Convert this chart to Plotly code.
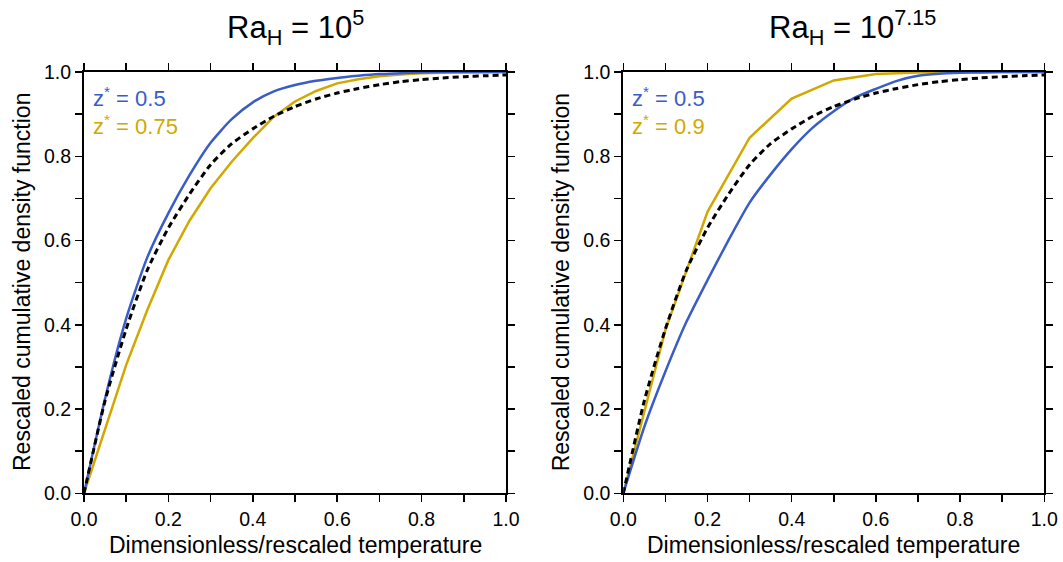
import plotly.graph_objects as go

# ---------------- data ----------------
x_fine = [0.0, 0.05, 0.1, 0.15, 0.2, 0.25, 0.3, 0.35, 0.4, 0.45, 0.5,
          0.55, 0.6, 0.65, 0.7, 0.75, 0.8, 0.85, 0.9, 0.95, 1.0]
x_coarse = [0.0, 0.1, 0.2, 0.3, 0.4, 0.5, 0.6, 0.7, 0.8, 0.9, 1.0]

ref_cdf = [0.0, 0.22, 0.39, 0.53, 0.63, 0.71, 0.78, 0.83, 0.865, 0.895, 0.918,
           0.936, 0.95, 0.961, 0.97, 0.977, 0.982, 0.986, 0.989, 0.991, 0.993]

left_z05 = [0.0, 0.225, 0.415, 0.56, 0.665, 0.755, 0.832, 0.888, 0.928, 0.954, 0.969,
            0.979, 0.986, 0.991, 0.995, 0.997, 0.999, 1.0, 1.0, 1.0, 1.0]
left_z075 = [0.0, 0.155, 0.305, 0.435, 0.554, 0.647, 0.724, 0.787, 0.843, 0.894, 0.93,
             0.955, 0.973, 0.983, 0.99, 0.994, 0.997, 0.998, 0.999, 1.0, 1.0]

right_z05 = [0.0, 0.158, 0.289, 0.407, 0.506, 0.601, 0.69, 0.757, 0.817, 0.868, 0.907,
             0.939, 0.96, 0.979, 0.991, 0.996, 0.998, 0.999, 1.0, 1.0, 1.0]
right_z09 = [0.0, 0.388, 0.668, 0.844, 0.937, 0.98, 0.995, 0.999, 1.0, 1.0, 1.0]

panel_titles = ["Ra<sub>H</sub> = 10<sup>5</sup>", "Ra<sub>H</sub> = 10<sup>7.15</sup>"]
left_labels = ["z<sup>*</sup> = 0.5", "z<sup>*</sup> = 0.75"]
right_labels = ["z<sup>*</sup> = 0.5", "z<sup>*</sup> = 0.9"]
x_title = "Dimensionless/rescaled temperature"
y_title = "Rescaled cumulative density function"

BLUE = "#3A5CC6"
GOLD = "#D2A800"
FONT = "Liberation Sans, Arial, Helvetica, sans-serif"

W, H = 1063, 562
# panel pixel geometry
L1, R1 = 84.0, 506.0
L2, R2 = 623.3, 1044.3
TOP, BOT = 72.0, 493.3

fig = go.Figure()

def add_line(x, y, color, xa, ya, dash=None, width=2.5, smooth=False):
    line = dict(color=color, width=width, dash=dash)
    if smooth:
        line.update(shape="spline", smoothing=0.6)
    fig.add_trace(go.Scatter(
        x=x, y=y, mode="lines", xaxis=xa, yaxis=ya, line=line,
        hoverinfo="skip", showlegend=False))

# left panel
add_line(x_fine, left_z075, GOLD, "x", "y")
add_line(x_fine, left_z05, BLUE, "x", "y", smooth=True)
add_line(x_fine, ref_cdf, "black", "x", "y", dash="6px,4px", width=3, smooth=True)
# right panel
add_line(x_coarse, right_z09, GOLD, "x2", "y2")
add_line(x_fine, right_z05, BLUE, "x2", "y2", smooth=True)
add_line(x_fine, ref_cdf, "black", "x2", "y2", dash="6px,4px", width=3, smooth=True)

axis_common = dict(
    range=[0, 1], showline=True, linewidth=2, linecolor="black", mirror="ticks",
    ticks="outside", ticklen=7, tickwidth=1.5, tickcolor="black",
    tick0=0, dtick=0.2, tickformat=".1f", showgrid=False, zeroline=False,
    tickfont=dict(family=FONT, size=19.5, color="black"),
    minor=dict(dtick=0.1, tick0=0, ticks="outside", ticklen=7, tickwidth=1.5,
               tickcolor="black", showgrid=False),
    fixedrange=True, automargin=False,
)

ydom = [1 - BOT / H, 1 - TOP / H]
fig.update_layout(
    width=W, height=H,
    margin=dict(l=0, r=0, t=0, b=0, autoexpand=False),
    paper_bgcolor="white", plot_bgcolor="white",
    showlegend=False,
    xaxis=dict(domain=[L1 / W, R1 / W], anchor="y", **axis_common),
    yaxis=dict(domain=ydom, anchor="x", **axis_common),
    xaxis2=dict(domain=[L2 / W, R2 / W], anchor="y2", **axis_common),
    yaxis2=dict(domain=ydom, anchor="x2", **axis_common),
)

ann = []
# panel titles
ann.append(dict(text=panel_titles[0], x=(L1 + R1) / 2 / W, y=1 - 28 / H,
                xanchor="center", yanchor="middle"))
ann.append(dict(text=panel_titles[1], x=766.7 / W, y=1 - 28 / H,
                xanchor="left", yanchor="middle"))
for a in ann:
    a.update(xref="paper", yref="paper", showarrow=False,
             font=dict(family=FONT, size=31, color="black"))

# in-plot labels
for labels, x0 in ((left_labels, L1), (right_labels, L2)):
    for i, (lab, col) in enumerate(zip(labels, (BLUE, GOLD))):
        ann.append(dict(text=lab, x=(x0 + 7) / W, y=1 - (97 + 28 * i) / H,
                        xref="paper", yref="paper", xanchor="left", yanchor="middle",
                        showarrow=False, font=dict(family=FONT, size=22, color=col)))

# axis titles
for x0, x1 in ((L1, R1), (L2, R2)):
    ann.append(dict(text=x_title, x=(x0 + x1) / 2 / W, y=1 - 545 / H,
                    xref="paper", yref="paper", xanchor="center", yanchor="middle",
                    showarrow=False, font=dict(family=FONT, size=23, color="black")))
    ann.append(dict(text=y_title, x=(x0 - 62) / W, y=1 - 282 / H, textangle=-90,
                    xref="paper", yref="paper", xanchor="center", yanchor="middle",
                    showarrow=False, font=dict(family=FONT, size=23, color="black")))

fig.update_layout(annotations=ann)
fig.write_html(
    "out.html",
    config={"displayModeBar": False, "staticPlot": True},
    post_script="document.body.style.margin='0';document.body.style.overflow='hidden';",
)
